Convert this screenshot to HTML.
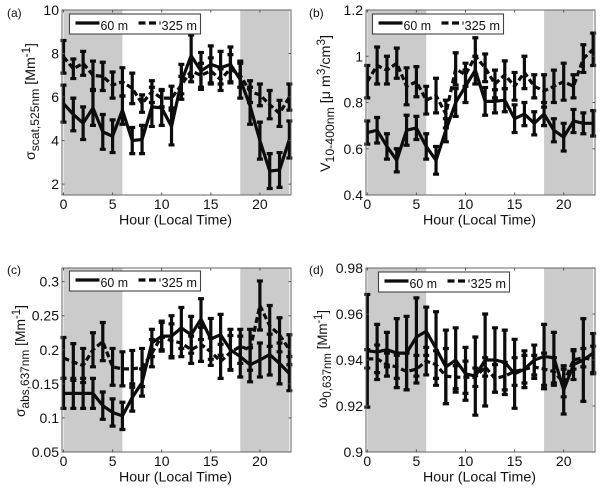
<!DOCTYPE html>
<html>
<head>
<meta charset="utf-8">
<style>
html,body{margin:0;padding:0;background:#fff;}
svg{display:block;}
</style>
</head>
<body>
<svg id="fig" width="600" height="490" viewBox="0 0 600 490" xmlns="http://www.w3.org/2000/svg" font-family="'Liberation Sans', sans-serif" fill="#111" style="font-family:'Liberation Sans',sans-serif">
  <rect width="600" height="490" fill="#fff"/>
  <g id="plots"></g>
  <text transform="translate(35,160) rotate(-90)" font-size="14" textLength="117" lengthAdjust="spacingAndGlyphs" style="font-family:'Liberation Sans',sans-serif">σ<tspan font-size="12" dy="4">scat,525nm</tspan><tspan dy="-4"> [Mm</tspan><tspan font-size="11.5" dy="-5">-1</tspan><tspan dy="5">]</tspan></text>
  <text transform="translate(330,172) rotate(-90)" font-size="14" textLength="137" lengthAdjust="spacingAndGlyphs" style="font-family:'Liberation Sans',sans-serif">V<tspan font-size="12" dy="4">10-400nm</tspan><tspan dy="-4"> [μ m</tspan><tspan font-size="11.5" dy="-5">3</tspan><tspan dy="5">/cm</tspan><tspan font-size="11.5" dy="-5">3</tspan><tspan dy="5">]</tspan></text>
  <text transform="translate(25,417) rotate(-90)" font-size="14" textLength="112" lengthAdjust="spacingAndGlyphs" style="font-family:'Liberation Sans',sans-serif">σ<tspan font-size="12" dy="4">abs,637nm</tspan><tspan dy="-4"> [Mm</tspan><tspan font-size="11.5" dy="-5">-1</tspan><tspan dy="5">]</tspan></text>
  <text transform="translate(327,408) rotate(-90)" font-size="14" textLength="98" lengthAdjust="spacingAndGlyphs" style="font-family:'Liberation Sans',sans-serif">ω<tspan font-size="12" dy="4">0,637nm</tspan><tspan dy="-4"> [Mm</tspan><tspan font-size="11.5" dy="-5">-1</tspan><tspan dy="5">]</tspan></text>
</svg>
<script>
const hours = [0,1,2,3,4,5,6,7,8,9,10,11,12,13,14,15,16,17,18,19,20,21,22,23];
const xTicks = [0,5,10,15,20];

const a60 = [5.7,5.2,4.8,5.5,4.4,4.2,5.4,4.0,4.05,5.55,5.5,4.65,6.7,7.9,7.2,7.5,7.35,7.5,6.8,5.6,4.0,2.6,2.65,4.05];
const a60Err = [.85,.75,.75,.8,.8,.75,.65,.6,.65,.9,.8,.85,.8,.95,.85,.85,.75,.8,.85,.85,.85,.8,.8,.85];
const a325 = [7.85,7.3,7.55,7.0,6.95,6.55,6.7,6.4,5.7,6.25,5.95,5.95,6.55,7.2,7.0,7.2,6.8,7.3,7.0,6.25,6.1,5.65,5.25,6.0];
const a325Err = [.75,.45,.55,.65,.65,.6,.65,.7,.4,.5,.4,.55,.4,.5,.55,.6,.5,.65,.55,.5,.5,.65,.6,.6];
const aTicks = [2,4,6,8,10];
const aTickLabels = ['2','4','6','8','10'];

const b60 = [.67,.68,.61,.55,.68,.69,.61,.55,.68,.8,.87,.94,.805,.805,.81,.73,.75,.71,.75,.68,.65,.72,.71,.71];
const b60Err = [.05,.055,.055,.05,.065,.05,.055,.06,.05,.06,.07,.06,.06,.05,.05,.06,.05,.05,.05,.05,.06,.05,.045,.055];
const b325 = [.89,.96,.94,.97,.87,.89,.81,.83,.75,.945,.92,1.0,.95,.88,.92,.87,.93,.87,.85,.87,.89,.87,.99,1.03];
const b325Err = [.07,.08,.06,.065,.08,.065,.06,.075,.06,.07,.05,.08,.06,.06,.06,.06,.07,.05,.07,.07,.08,.05,.06,.07];
const bTicks = [.4,.6,.8,1,1.2];
const bTickLabels = ['0.4','0.6','0.8','1','1.2'];

const c60 = [.136,.136,.136,.136,.118,.108,.103,.13,.152,.21,.22,.22,.232,.222,.245,.216,.222,.2,.19,.178,.185,.193,.18,.165];
const c60Err = [.022,.022,.022,.022,.02,.02,.02,.02,.02,.02,.022,.03,.03,.027,.03,.03,.03,.03,.03,.025,.025,.03,.03,.025];
const c325 = [.188,.182,.177,.2,.212,.175,.172,.172,.174,.195,.22,.213,.21,.2,.208,.197,.183,.196,.205,.2,.265,.235,.222,.2];
const c325Err = [.03,.027,.025,.025,.028,.027,.025,.027,.028,.02,.02,.025,.02,.02,.025,.02,.025,.025,.025,.03,.036,.03,.025,.022];
const cTicks = [.05,.1,.15,.2,.25,.3];
const cTickLabels = ['0.05','0.1','0.15','0.2','0.25','0.3'];

const d60 = [.944,.9435,.9445,.943,.943,.95,.9525,.945,.937,.94,.934,.933,.94,.94,.939,.934,.936,.94,.9415,.941,.927,.938,.94,.943];
const d60Err = [.0245,.012,.0075,.015,.016,.017,.0105,.016,.016,.014,.0115,.017,.02,.014,.014,.015,.008,.0065,.014,.011,.0105,.0065,.018,.0085];
const d325 = [.9405,.9405,.938,.937,.935,.936,.9395,.938,.933,.9325,.9325,.9325,.937,.932,.933,.935,.936,.937,.936,.935,.93,.94,.941,.94];
const d325Err = [.004,.006,.005,.005,.008,.006,.006,.006,.012,.005,.007,.004,.004,.006,.006,.006,.006,.005,.007,.006,.006,.004,.004,.006];
const dTicks = [.9,.92,.94,.96,.98];
const dTickLabels = ['0.9','0.92','0.94','0.96','0.98'];

const nightBands = [[0,6],[18,23]];
const SVG = 'http://www.w3.org/2000/svg';
const root = document.getElementById('plots');
const FONT = "font-family:'Liberation Sans',sans-serif";

function mk(parent, tag, attrs, text) {
  const e = document.createElementNS(SVG, tag);
  for (const k in attrs) e.setAttribute(k, attrs[k]);
  if (text !== undefined) {
    e.textContent = text;
    e.setAttribute('style', FONT);
  }
  parent.appendChild(e);
  return e;
}

function drawSeries(g, xs, ys, errs, X, Y, dash, name) {
  const s = mk(g, 'g', {});
  
  
  const pts = xs.map((h, i) => X(h).toFixed(2) + ',' + Y(ys[i]).toFixed(2)).join(' ');
  const line = mk(s, 'polyline', {points: pts, fill: 'none', stroke: '#0c0c0c', 'stroke-width': 3.2, 'stroke-linejoin': 'round'});
  
  
  if (dash) line.setAttribute('stroke-dasharray', dash);
  xs.forEach((h, i) => {
    const x = X(h), hi = Y(ys[i] + errs[i]), lo = Y(ys[i] - errs[i]);
    const bar = mk(s, 'path', {
      d: 'M' + x + ' ' + hi + 'V' + lo + 'M' + (x - 3) + ' ' + hi + 'H' + (x + 3) + 'M' + (x - 3) + ' ' + lo + 'H' + (x + 3),
      fill: 'none', stroke: '#0c0c0c', 'stroke-width': 3.2
    });
    
    
  });
}

function drawPanel(p) {
  const g = mk(root, 'g', {});
  
  
  const X = v => p.x0 + (v - 0) * 9.82;
  const Y = v => p.bottom - (v - p.ymin) / (p.ymax - p.ymin) * (p.bottom - p.top);

  nightBands.forEach(b => {
    const r = mk(g, 'rect', {x: X(b[0]), y: p.top, width: X(b[1]) - X(b[0]), height: p.bottom - p.top, fill: '#cbcbcb'});
    
    
  });

  drawSeries(g, hours, p.s325, p.e325, X, Y, '6 3', p.id + '-325m');
  drawSeries(g, hours, p.s60, p.e60, X, Y, null, p.id + '-60m');

  const frame = mk(g, 'rect', {x: p.left, y: p.top, width: p.right - p.left, height: p.bottom - p.top, fill: 'none', stroke: '#666', 'stroke-width': 1});
  
  

  xTicks.forEach(t => {
    mk(g, 'path', {d: 'M' + X(t) + ' ' + p.bottom + 'v-2.5M' + X(t) + ' ' + p.top + 'v2.5', stroke: '#555', 'stroke-width': 1});
    const l = mk(g, 'text', {x: X(t), y: p.bottom + 14, 'font-size': 14, 'text-anchor': 'middle'}, String(t));
    
    
  });
  p.ticks.forEach((t, i) => {
    mk(g, 'path', {d: 'M' + p.left + ' ' + Y(t) + 'h2.5M' + p.right + ' ' + Y(t) + 'h-2.5', stroke: '#555', 'stroke-width': 1});
    const l = mk(g, 'text', {x: p.left - 3, y: Y(t) + 5, 'font-size': 14, 'text-anchor': 'end'}, p.labels[i]);
    
    
  });

  const xt = mk(g, 'text', {x: (p.left + p.right) / 2 - 1, y: p.bottom + 29.5, 'font-size': 14, 'text-anchor': 'middle', textLength: 113, lengthAdjust: 'spacingAndGlyphs'}, 'Hour (Local Time)');
  
  

  const tag = mk(g, 'text', {x: p.tagX, y: p.tagY, 'font-size': 12}, '(' + p.id + ')');
  
  

  const lg = mk(g, 'g', {});
  
  
  const lx = p.legX, ly = p.legY;
  mk(lg, 'rect', {x: lx, y: ly, width: p.legW, height: 20, fill: '#fff', stroke: '#444', 'stroke-width': 1.1});
  mk(lg, 'line', {x1: lx + 6, x2: lx + 30, y1: ly + 9, y2: ly + 9, stroke: '#0c0c0c', 'stroke-width': 3.2});
  mk(lg, 'text', {x: lx + 31, y: ly + 16, 'font-size': 13, textLength: 27.5, lengthAdjust: 'spacingAndGlyphs'}, '60 m');
  mk(lg, 'line', {x1: lx + 69, x2: lx + 91, y1: ly + 9, y2: ly + 9, stroke: '#0c0c0c', 'stroke-width': 3.2, 'stroke-dasharray': '7 3.5'});
  mk(lg, 'text', {x: lx + 92, y: ly + 16, 'font-size': 13, textLength: 35.5, lengthAdjust: 'spacingAndGlyphs'}, '325 m');
}

drawPanel({id: 'a', left: 62, right: 291, top: 10, bottom: 195, x0: 63.5, ymin: 1.5, ymax: 10, ticks: aTicks, labels: aTickLabels,
  s60: a60, e60: a60Err, s325: a325, e325: a325Err, tagX: 7, tagY: 17, legX: 69.5, legY: 14, legW: 131});
drawPanel({id: 'b', left: 366, right: 595, top: 10, bottom: 195, x0: 367.3, ymin: .4, ymax: 1.2, ticks: bTicks, labels: bTickLabels,
  s60: b60, e60: b60Err, s325: b325, e325: b325Err, tagX: 309, tagY: 17, legX: 372.5, legY: 14, legW: 131});
drawPanel({id: 'c', left: 62, right: 291, top: 268, bottom: 452, x0: 63.5, ymin: .05, ymax: .32, ticks: cTicks, labels: cTickLabels,
  s60: c60, e60: c60Err, s325: c325, e325: c325Err, tagX: 7, tagY: 274, legX: 69.5, legY: 271, legW: 131});
drawPanel({id: 'd', left: 366, right: 595, top: 268, bottom: 452, x0: 367.3, ymin: .9, ymax: .98, ticks: dTicks, labels: dTickLabels,
  s60: d60, e60: d60Err, s325: d325, e325: d325Err, tagX: 309, tagY: 274, legX: 378.5, legY: 272, legW: 131});
</script>
</body>
</html>
